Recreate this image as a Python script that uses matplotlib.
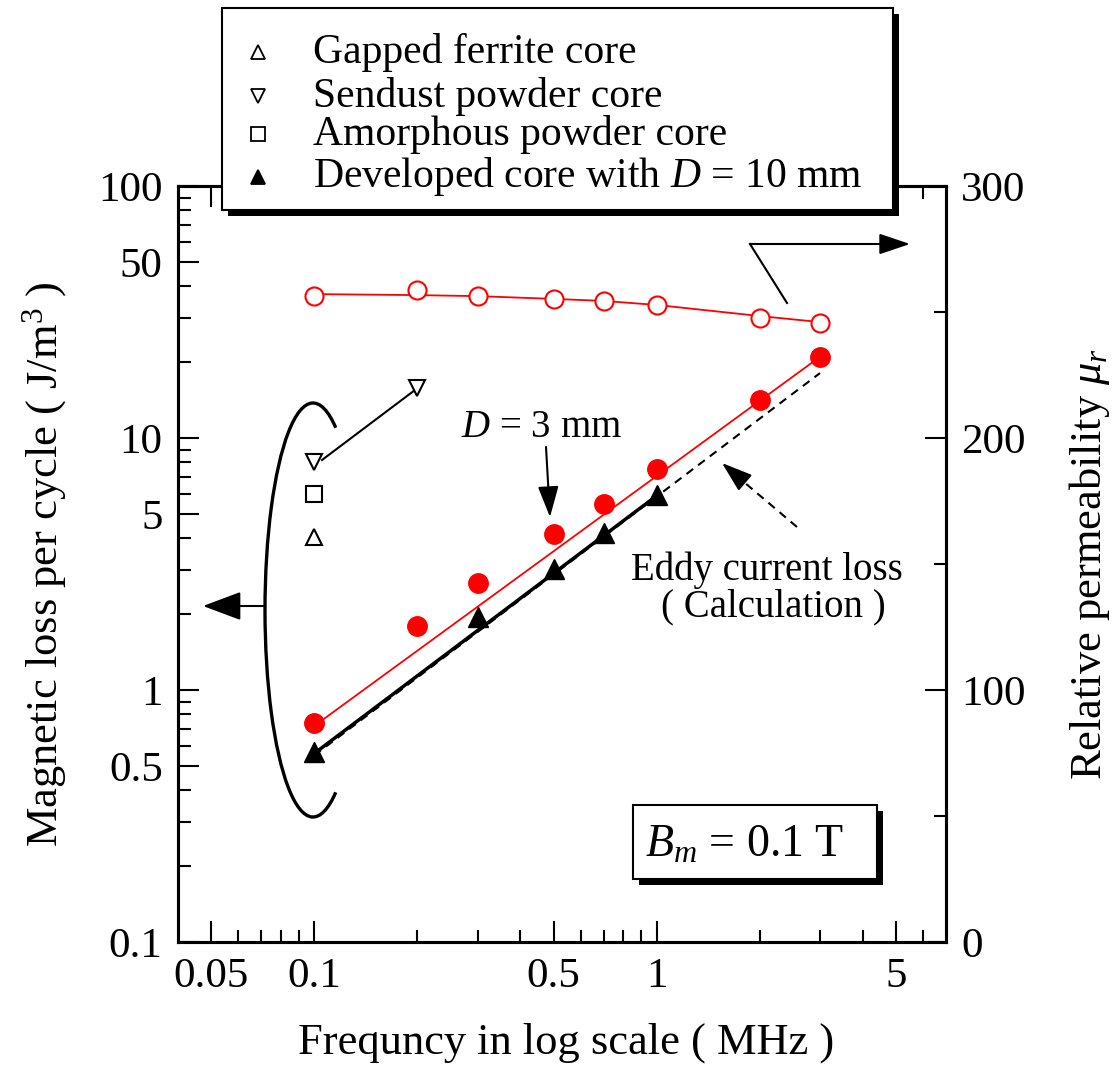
import matplotlib
matplotlib.use("Agg")
import matplotlib.pyplot as plt
from matplotlib.patches import Rectangle, Arc
from matplotlib.lines import Line2D
from matplotlib.ticker import FixedLocator, NullFormatter

plt.rcParams['font.family'] = ['Liberation Serif', 'DejaVu Serif']
plt.rcParams['mathtext.fontset'] = 'custom'
plt.rcParams['mathtext.rm'] = 'Liberation Serif'
plt.rcParams['mathtext.it'] = 'Liberation Serif:italic'
plt.rcParams['font.size'] = 31

# Data
freq = [0.1, 0.2, 0.3, 0.5, 0.7, 1.0, 2.0, 3.0]          # MHz
mu_r = [256.3, 258.7, 256.3, 255.2, 254.4, 252.8, 247.6, 245.6]
mu_fit = [257.1, 256.7, 256.3, 255.2, 254.4, 252.8, 248.4, 246.0]
loss_d3 = [0.74, 1.80, 2.66, 4.16, 5.47, 7.53, 14.2, 20.9]
fit_d3_f = [0.1, 3.0]
fit_d3 = [0.72, 21.0]
freq_d10 = [0.1, 0.3, 0.5, 0.7, 1.0]
loss_d10 = [0.567, 1.95, 3.02, 4.20, 5.94]
fit_d10_f = [0.1, 1.0]
fit_d10 = [0.56, 5.9]
calc_f = [0.1, 3.0]
calc_loss = [0.55, 18.1]
ferrite = ([0.1], [4.05])
sendust = ([0.1, 0.2], [8.0, 15.8])
amorph = ([0.1], [6.0])

legend_labels = ["Gapped ferrite core", "Sendust powder core",
                 "Amorphous powder core", r"Developed core with $D$ = 10 mm"]
legend_markers = ['^', 'v', 's', '^']
legend_filled = [False, False, False, True]

W, H = 1118, 1068
fig = plt.figure(figsize=(W / 100, H / 100), dpi=100)
ax = fig.add_axes([178 / W, 1 - 942 / H, 768 / W, 756 / H])
ax.set_xscale('log')
ax.set_yscale('log')
ax.set_xlim(0.04, 7)
ax.set_ylim(0.1, 100)
ax2 = ax.twinx()
ax2.set_ylim(0, 300)

# loss data (left axis)
ax.plot(fit_d3_f, fit_d3, color='red', lw=1.3, zorder=2)
ax.plot(freq, loss_d3, 'o', color='red', ms=14, zorder=3)
ax.plot(calc_f, calc_loss, color='black', lw=1.5, ls=(0, (4, 3)), zorder=2)
ax.plot(fit_d10_f, fit_d10, color='black', lw=2.5, zorder=2)
ax.plot(freq_d10, loss_d10, '^', color='black', ms=14, zorder=3)
for d, m in [(ferrite, '^'), (sendust, 'v'), (amorph, 's')]:
    ax.plot(d[0], d[1], m, mfc='white', mec='black', mew=1.5, ms=12, ls='none', zorder=3)

# permeability (right axis)
ax2.plot(freq, mu_fit, color='red', lw=1.3, zorder=2)
ax2.plot(freq, mu_r, 'o', mfc='white', mec='red', mew=1.5, ms=13, zorder=3)

# axes styling
for a in (ax, ax2):
    for s in a.spines.values():
        s.set_linewidth(2.2)
ax.xaxis.set_major_locator(FixedLocator([0.05, 0.1, 0.5, 1, 5]))
ax.xaxis.set_minor_locator(FixedLocator([0.06, 0.07, 0.08, 0.09, 0.2, 0.3, 0.4, 0.6, 0.7,
                                         0.8, 0.9, 2, 3, 4, 6]))
ax.set_xticklabels(['0.05', '0.1', '0.5', '1', '5'])
ax.xaxis.set_minor_formatter(NullFormatter())
ax.yaxis.set_major_locator(FixedLocator([0.1, 0.5, 1, 5, 10, 50, 100]))
ax.yaxis.set_minor_locator(FixedLocator([m * 10.0 ** e for e in (-1, 0, 1)
                                         for m in (2, 3, 4, 6, 7, 8, 9)]))
ax.set_yticklabels(['0.1', '0.5', '1', '5', '10', '50', '100'])
ax.yaxis.set_minor_formatter(NullFormatter())
ax.tick_params(which='both', direction='in', top=True, right=False, width=1.5, pad=11)
ax.tick_params(which='major', length=15)
ax.tick_params(which='minor', length=9)
ax2.set_yticks([0, 100, 200, 300])
ax2.set_yticks([50, 150, 250], minor=True)
ax2.tick_params(which='both', direction='in', width=1.5, pad=11)
ax2.tick_params(which='major', length=15)
ax2.tick_params(which='minor', length=9)

ax.set_xlabel('Frequncy in log scale ( MHz )', fontsize=32)
ax.set_ylabel('Magnetic loss per cycle ( J/m$^3$ )', fontsize=32)
ax2.set_ylabel(r'Relative permeability $\mu_r$', fontsize=32)
ax.xaxis.set_label_coords((566 - 178) / 768, (942 - 1043) / 756)
ax.yaxis.set_label_coords((45 - 178) / 768, (942 - 564) / 756)
ax2.yaxis.set_label_coords((1090 - 178) / 768, (942 - 564) / 756)
ax.xaxis.label.set_va('center')
ax.yaxis.label.set_va('center')
ax2.yaxis.label.set_va('center')

# annotations (axes-fraction positions from pixel layout)
def af(x, y):
    return ((x - 178) / 768, (942 - y) / 756)

head = '-|>,head_length=0.95,head_width=0.32'
arrow = dict(arrowstyle=head, color='black', lw=1.5, shrinkA=0, shrinkB=0,
             mutation_scale=20)
ell = Arc(af(313, 610), 96 / 768, 414 / 756, theta1=83, theta2=277,
          transform=ax.transAxes, color='black', lw=2.4, zorder=4)
ax.add_patch(ell)
ax.annotate('', xy=af(203, 606), xytext=af(265, 606), xycoords='axes fraction',
            textcoords='axes fraction',
            arrowprops=dict(arrow, arrowstyle='-|>,head_length=1.2,head_width=0.45'))
ax.plot(*zip(af(322, 460), af(415, 390)), color='black', lw=1.5, transform=ax.transAxes)
ax.plot(*zip(af(787, 303), af(750, 244)), color='black', lw=1.5, transform=ax.transAxes,
        clip_on=False)
ax.annotate('', xy=af(910, 244), xytext=af(750, 244), xycoords='axes fraction',
            textcoords='axes fraction', arrowprops=arrow, annotation_clip=False)
ax.text(*af(542, 427), r'$D$ = 3 mm', transform=ax.transAxes, ha='center', va='center',
        fontsize=28)
ax.annotate('', xy=af(550, 517), xytext=af(546, 447), xycoords='axes fraction',
            textcoords='axes fraction', arrowprops=arrow)
# dashed arrow: dashed shaft plus solid head
ax.plot(*zip(af(797, 527), af(738, 477)), color='black', lw=1.5, ls=(0, (4, 3)),
        transform=ax.transAxes)
ax.annotate('', xy=af(722, 463), xytext=af(742, 480), xycoords='axes fraction',
            textcoords='axes fraction', arrowprops=arrow)
ax.text(*af(767, 570), 'Eddy current loss', transform=ax.transAxes, ha='center',
        va='center', fontsize=28)
ax.text(*af(773, 607), '( Calculation )', transform=ax.transAxes, ha='center',
        va='center', fontsize=28)

# B_m box with shadow
def fbox(x0, y0, x1, y1, **kw):
    return Rectangle((x0 / W, 1 - y1 / H), (x1 - x0) / W, (y1 - y0) / H,
                     transform=fig.transFigure, **kw)

fig.add_artist(fbox(639, 811, 883, 885, fc='black', ec='none', zorder=10))
fig.add_artist(fbox(633, 805, 877, 879, fc='white', ec='black', lw=1.5, zorder=11))
fig.text(745 / W, 1 - 845 / H, r'$B_m$ = 0.1 T', ha='center', va='center', zorder=12,
         fontsize=33)

# legend box with shadow
fig.add_artist(fbox(228, 14, 899, 216, fc='black', ec='none', zorder=10))
fig.add_artist(fbox(222, 8, 893, 210, fc='white', ec='black', lw=1.5, zorder=11))
rows = [52, 96, 134, 177]
for lab, mk, filled, ry in zip(legend_labels, legend_markers, legend_filled, rows):
    fig.add_artist(Line2D([258 / W], [1 - ry / H], marker=mk, ms=10, mew=1.3,
                          mec='black', mfc='black' if filled else 'white',
                          transform=fig.transFigure, zorder=12))
    fig.text(313 / W, 1 - ry / H, lab, ha='left', va='center', zorder=12, fontsize=30)

plt.savefig('out.png', dpi=100)
